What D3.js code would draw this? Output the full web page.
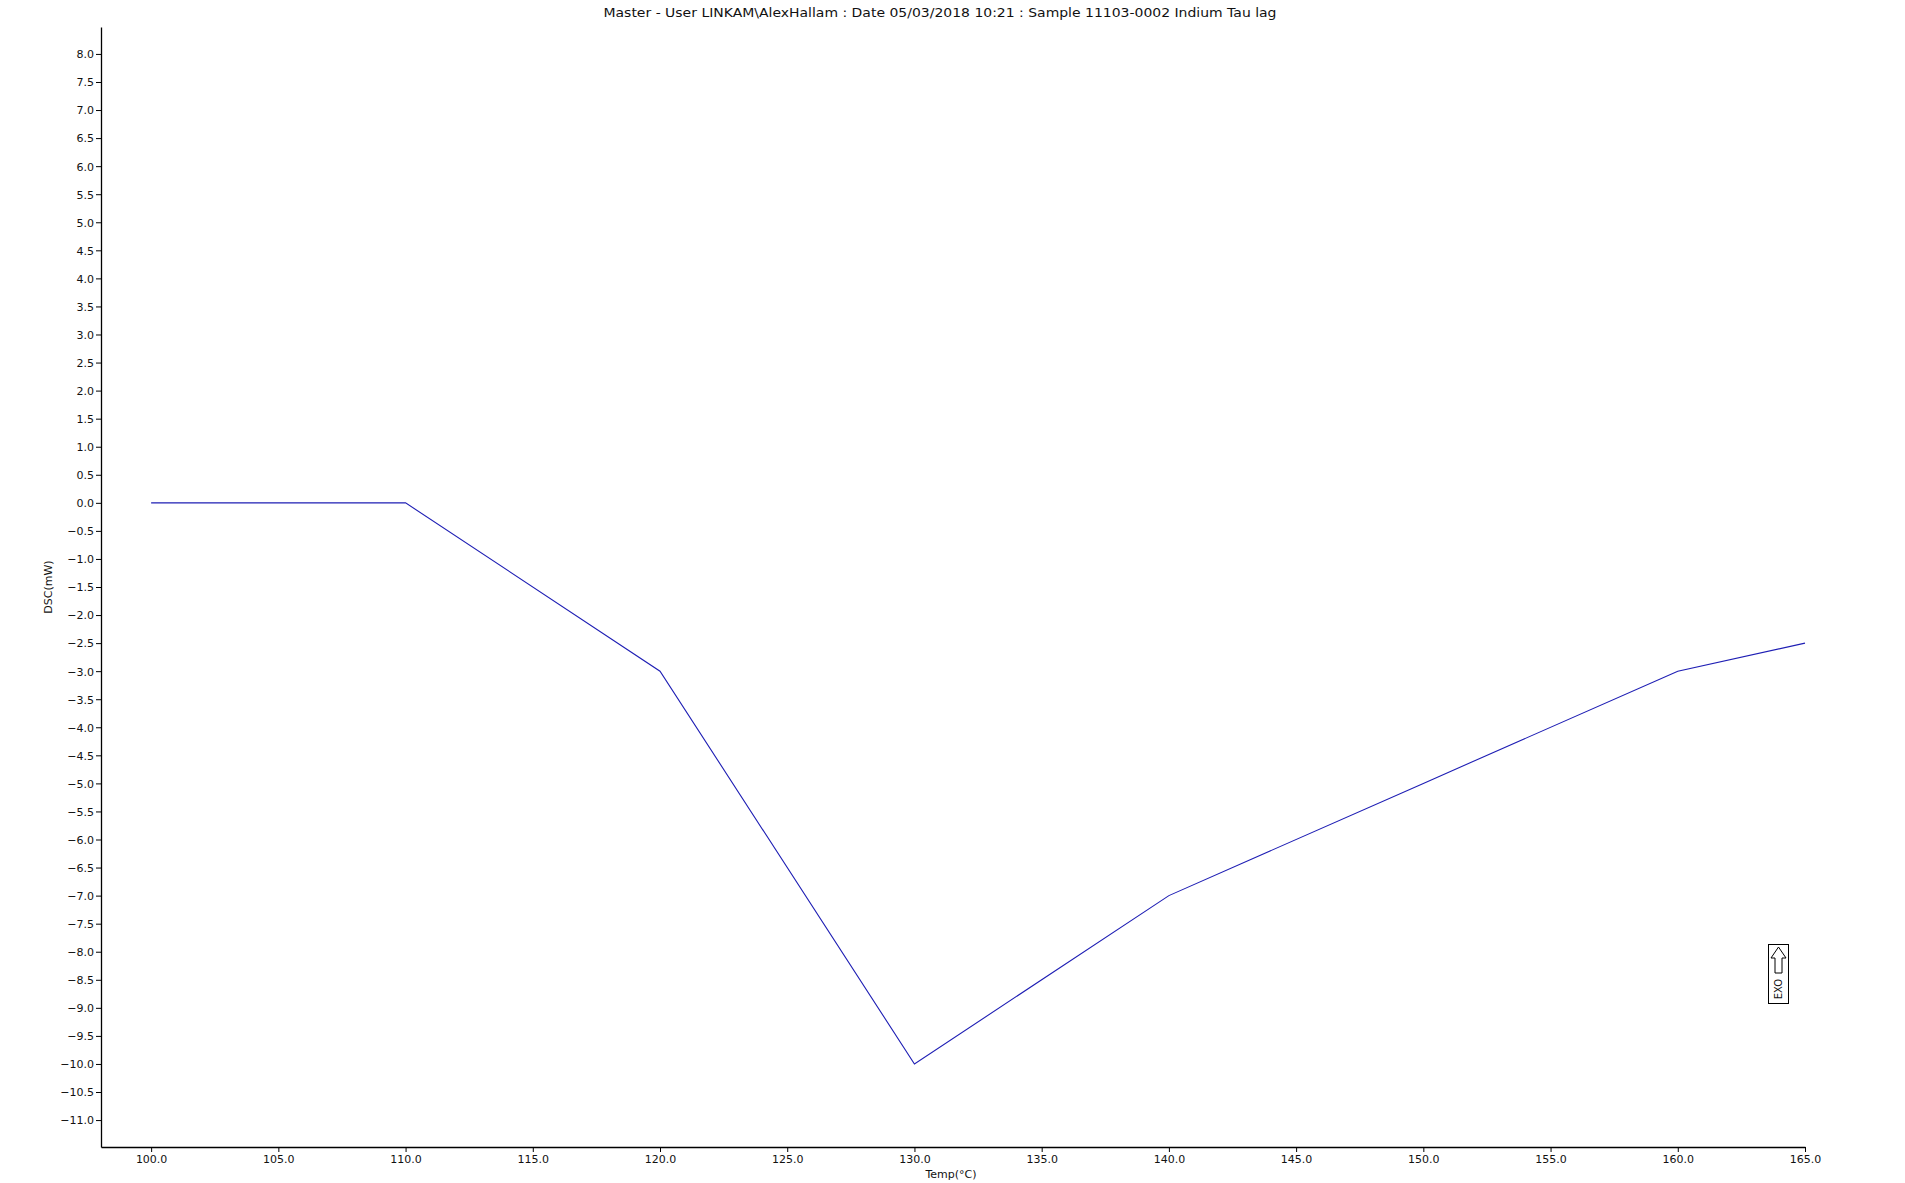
<!DOCTYPE html>
<html>
<head>
<meta charset="utf-8">
<script src="https://cdn.jsdelivr.net/npm/d3@7"></script>
<style>
html,body{margin:0;padding:0;background:#fff;}
svg{display:block;font-family:"DejaVu Sans",Verdana,sans-serif;}
</style>
</head>
<body>
<script>
const titleText = "Master - User LINKAM\\AlexHallam : Date 05/03/2018 10:21 : Sample 11103-0002 Indium Tau lag";
const xLabel = "Temp(°C)";
const yLabel = "DSC(mW)";
const temps = [100, 110, 120, 130, 140, 150, 160, 165];
const dsc   = [0, 0, -3, -10, -7, -5, -3, -2.5];
const xTicks = [100,105,110,115,120,125,130,135,140,145,150,155,160,165];
const yTicks = d3.range(-22, 17).map(d => d / 2);

const W = 1905, H = 1183;
const svg = d3.select("body").append("svg").attr("width", W).attr("height", H);

const x = d3.scaleLinear().domain([98.03, 165]).range([101, 1805]);
const y = d3.scaleLinear().domain([-11.48, 8.48]).range([1147, 27]);

const xAxis = svg.append("g").attr("transform", "translate(0,1147)")
  .call(d3.axisBottom(x).tickValues(xTicks).tickFormat(d3.format(".1f")).tickSize(5).tickSizeOuter(0));
const yAxis = svg.append("g").attr("transform", "translate(101,0)")
  .call(d3.axisLeft(y).tickValues(yTicks).tickFormat(d3.format(".1f")).tickSize(5).tickSizeOuter(0));

[xAxis, yAxis].forEach(g => {
  g.selectAll("path.domain").attr("stroke", "#000").attr("stroke-width", 1.3);
  g.selectAll(".tick line").attr("stroke", "#000");
  g.selectAll(".tick text").attr("fill", "#111").style("font-size", "11px").style("font-family", "DejaVu Sans, Verdana, sans-serif");
});
yAxis.selectAll(".tick text").attr("x", -7).attr("dy", "0.35em");
xAxis.selectAll(".tick text").attr("y", 8);

const line = d3.line().x((d, i) => x(temps[i])).y(d => y(d));
svg.append("path").datum(dsc).attr("d", line)
  .attr("fill", "none").attr("stroke", "#1e1eb4").attr("stroke-width", 1.1);

svg.append("text").attr("x", 940).attr("y", 17).attr("text-anchor", "middle")
  .style("font-size", "13px").attr("fill", "#111").attr("textLength", 673).attr("lengthAdjust", "spacingAndGlyphs")
  .text(titleText);

svg.append("text").attr("x", 951).attr("y", 1178).attr("text-anchor", "middle")
  .style("font-size", "11px").attr("fill", "#111").text(xLabel);

svg.append("text").attr("transform", "translate(52,587) rotate(-90)").attr("text-anchor", "middle")
  .style("font-size", "11px").attr("fill", "#111").text(yLabel);

// EXO indicator
const exo = svg.append("g");
exo.append("rect").attr("x", 1768.5).attr("y", 944.5).attr("width", 20).attr("height", 59)
  .attr("fill", "#fff").attr("stroke", "#000").attr("stroke-width", 1);
exo.append("path").attr("d", "M1778.5,947 L1771,958 L1775,958 L1775,973 L1782,973 L1782,958 L1786,958 Z")
  .attr("fill", "none").attr("stroke", "#000").attr("stroke-width", 1);
exo.append("text").attr("transform", "translate(1782,989) rotate(-90)").attr("text-anchor", "middle")
  .style("font-size", "10px").attr("fill", "#111").text("EXO");
</script>
</body>
</html>
